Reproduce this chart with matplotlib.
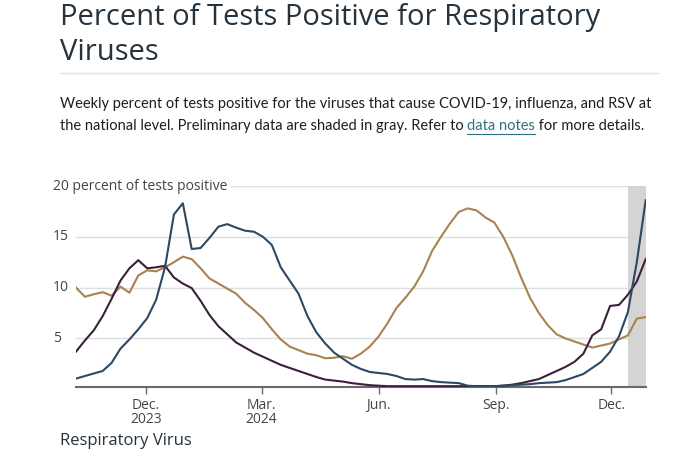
import matplotlib
matplotlib.use("Agg")
import matplotlib.pyplot as plt
import pandas as pd
import numpy as np

# ---- data ----
start_date = "2023-10-07"
n_weeks = 65
covid = [10.0, 9.1, 9.35, 9.55, 9.2, 10.1, 9.5, 11.2, 11.7, 11.6,
         12.0, 12.5, 13.05, 12.8, 11.9, 10.9, 10.4, 9.9, 9.4, 8.5,
         7.8, 7.0, 5.9, 4.9, 4.2, 3.85, 3.5, 3.35, 3.05, 3.1,
         3.25, 3.0, 3.5, 4.2, 5.2, 6.5, 8.0, 9.0, 10.1, 11.6,
         13.6, 15.0, 16.3, 17.45, 17.8, 17.6, 16.9, 16.4, 15.0, 13.2,
         11.0, 9.0, 7.5, 6.3, 5.4, 5.0, 4.7, 4.4, 4.1, 4.3,
         4.5, 4.9, 5.3, 6.95, 7.1]
flu = [1.05, 1.3, 1.55, 1.8, 2.6, 4.0, 4.9, 5.9, 7.0, 8.8,
       12.0, 17.2, 18.3, 13.8, 13.9, 14.9, 16.0, 16.25, 15.9, 15.6,
       15.5, 15.0, 14.2, 12.0, 10.7, 9.4, 7.2, 5.6, 4.5, 3.6,
       3.0, 2.4, 2.0, 1.7, 1.6, 1.5, 1.3, 1.0, 0.95, 1.0,
       0.8, 0.7, 0.65, 0.6, 0.35, 0.3, 0.3, 0.3, 0.35, 0.4,
       0.45, 0.5, 0.6, 0.65, 0.7, 0.9, 1.2, 1.5, 2.1, 2.7,
       3.7, 5.2, 7.6, 12.5, 18.6]
rsv = [3.7, 4.8, 5.8, 7.2, 8.9, 10.7, 11.9, 12.7, 11.9, 12.0,
       12.15, 11.0, 10.4, 9.95, 8.7, 7.3, 6.2, 5.4, 4.6, 4.1,
       3.6, 3.2, 2.8, 2.4, 2.1, 1.8, 1.5, 1.2, 0.95, 0.85,
       0.75, 0.6, 0.5, 0.4, 0.35, 0.3, 0.3, 0.3, 0.3, 0.3,
       0.3, 0.3, 0.3, 0.3, 0.3, 0.3, 0.3, 0.3, 0.35, 0.45,
       0.6, 0.8, 1.0, 1.4, 1.8, 2.2, 2.7, 3.5, 5.3, 5.9,
       8.2, 8.3, 9.3, 10.6, 12.8]
tick_dates = ["2023-12-01", "2024-03-01", "2024-06-01", "2024-09-01", "2024-12-01"]
tick_labels = ["Dec.\n2023", "Mar.\n2024", "Jun.", "Sep.", "Dec."]
y_ticks = [5, 10, 15]
prelim_start = "2024-12-14"

dates = pd.date_range(start_date, periods=n_weeks, freq="7D")

plt.rcParams['font.family'] = ['Lato', 'DejaVu Sans']

fig = plt.figure(figsize=(7, 4.5), dpi=100)
fig.patch.set_facecolor("white")

# Title & subtitle
title_font = ['Open Sans', 'DejaVu Sans']
fig.text(60/700, 1 - 18/450, "Percent of Tests Positive for Respiratory", fontsize=21,
         color="#26333d", va="center", ha="left", family=title_font)
fig.text(60/700, 1 - 53/450, "Viruses", fontsize=21, color="#26333d",
         va="center", ha="left", family=title_font)
fig.add_artist(plt.Line2D([60/700, 658/700], [1 - 73/450, 1 - 73/450],
                          color="#e3e3e3", lw=1, transform=fig.transFigure))
fs_sub = 10.5
fig.text(60/700, 1 - 104/450,
         "Weekly percent of tests positive for the viruses that cause COVID-19, influenza, and RSV at",
         fontsize=fs_sub, color="#1e1e1e", va="center", ha="left")
t1 = fig.text(60/700, 1 - 126/450,
              "the national level. Preliminary data are shaded in gray. Refer to ",
              fontsize=fs_sub, color="#1e1e1e", va="center", ha="left")
fig.canvas.draw()
r = fig.canvas.get_renderer()
bb = t1.get_window_extent(r)
x2 = bb.x1 / fig.bbox.width
t2 = fig.text(x2, 1 - 126/450, "data notes", fontsize=fs_sub, color="#2b7185",
              va="center", ha="left")
bb2 = t2.get_window_extent(r)
fig.add_artist(plt.Line2D([bb2.x0 / 700, bb2.x1 / 700], [1 - 134/450, 1 - 134/450],
                          color="#2b7185", lw=0.8, transform=fig.transFigure))
fig.text(bb2.x1 / 700, 1 - 126/450, " for more details.", fontsize=fs_sub, color="#1e1e1e",
         va="center", ha="left")

# Axes
ax = fig.add_axes([76/700, (450 - 386.7)/450, 569.7/700, 200.7/450])
ax.set_xlim(dates[0], dates[-1])
ax.set_ylim(0.25, 20)

ax.axvspan(pd.Timestamp(prelim_start), dates[-1], color="#d4d4d4", zorder=1, lw=0)
for yv in y_ticks + [20]:
    ax.axhline(yv, color="#dedede", lw=1, zorder=0.5)

ax.plot(dates, covid, color="#a8824f", lw=1.5, zorder=3)
ax.plot(dates, rsv, color="#3b1f3c", lw=1.5, zorder=3)
ax.plot(dates, flu, color="#2c4862", lw=1.5, zorder=4)

for s in ["top", "right", "left"]:
    ax.spines[s].set_visible(False)
ax.spines["bottom"].set_color("#6a6a6a")
ax.spines["bottom"].set_linewidth(1.5)

tick_font = ['Open Sans', 'DejaVu Sans']
ax.set_xticks(pd.to_datetime(tick_dates))
ax.set_xticklabels(tick_labels, fontsize=10, color="#444444", linespacing=0.95,
                   family=tick_font)
ax.tick_params(axis="x", length=5, width=1, color="#6a6a6a", pad=3)
ax.set_yticks([])

for yv in y_ticks:
    fig.text(53/700, (450 - (386.7 - (yv - 0.25) * 200.7/19.75))/450, str(yv),
             fontsize=10, color="#444444", va="center", ha="left", family=tick_font)
fig.text(53/700, (450 - 186)/450, "20 percent of tests positive", fontsize=10,
         color="#444444", va="center", ha="left", family=tick_font,
         bbox=dict(facecolor="white", edgecolor="none", pad=2))

fig.text(60/700, 1 - 449/450, "Respiratory Virus", fontsize=12, color="#26333d",
         va="bottom", ha="left", family=tick_font)

fig.savefig("out.png", dpi=100)
